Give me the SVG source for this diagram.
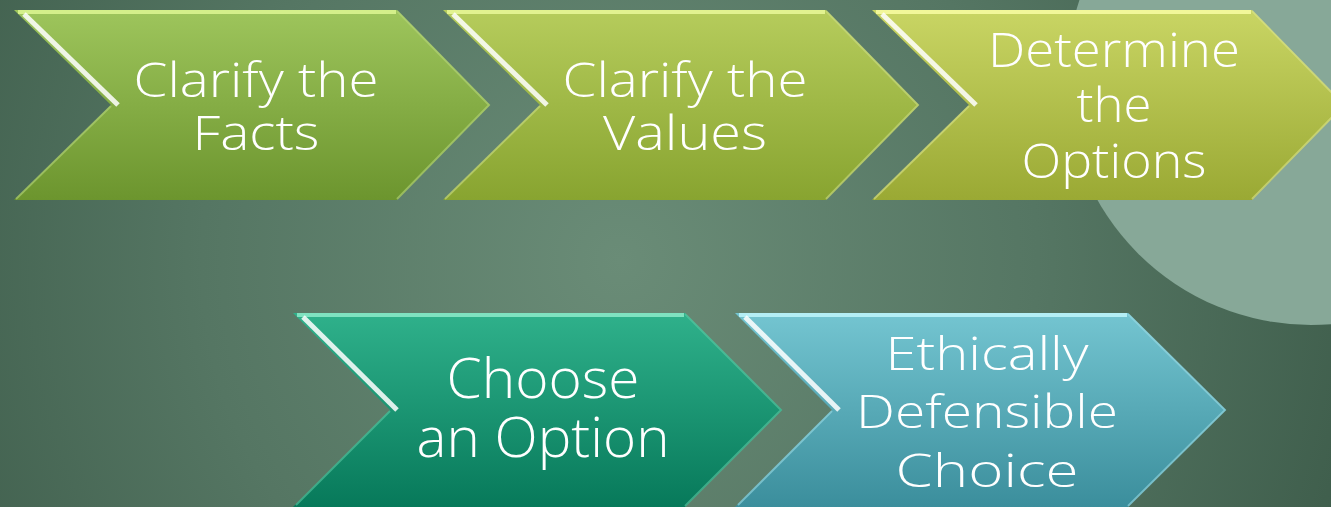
<svg xmlns="http://www.w3.org/2000/svg" width="1331" height="507" viewBox="0 0 1331 507">
<style>
.lbl{font-family:"Open Sans","Liberation Sans",sans-serif;font-weight:300;fill:#ffffff;text-anchor:middle}
.top{fill:none;stroke-width:4;stroke-linecap:butt}
.hl{fill:none;stroke:#ffffff;stroke-width:5;stroke-opacity:0.85}
.lo{fill:none;stroke-width:2;stroke-opacity:0.6}
</style>
<defs>
<radialGradient id="bg" cx="620" cy="260" r="760" gradientUnits="userSpaceOnUse">
<stop offset="0" stop-color="#6a8c77"/>
<stop offset="0.55" stop-color="#557663"/>
<stop offset="1" stop-color="#3f5e4c"/>
</radialGradient>
<linearGradient id="g1" x1="0" y1="0" x2="0" y2="1"><stop offset="0" stop-color="#9ec55c"/><stop offset="1" stop-color="#6c952e"/></linearGradient>
<linearGradient id="g2" x1="0" y1="0" x2="0" y2="1"><stop offset="0" stop-color="#b6cc5c"/><stop offset="1" stop-color="#88a430"/></linearGradient>
<linearGradient id="g3" x1="0" y1="0" x2="0" y2="1"><stop offset="0" stop-color="#c9d564"/><stop offset="1" stop-color="#9aa934"/></linearGradient>
<linearGradient id="g4" x1="0" y1="0" x2="0" y2="1"><stop offset="0" stop-color="#2fb18b"/><stop offset="1" stop-color="#07795a"/></linearGradient>
<linearGradient id="g5" x1="0" y1="0" x2="0" y2="1"><stop offset="0" stop-color="#74c5d1"/><stop offset="1" stop-color="#3b8e9c"/></linearGradient>
</defs>
<rect x="0" y="0" width="1331" height="507" fill="url(#bg)"/>
<circle cx="1311" cy="80" r="245" fill="#87a898"/>

<g id="n1">
<polygon points="14,10 397,10 490,105 397,200 14,200 111,105" fill="url(#g1)"/>
<polyline class="top" points="18,12 396,12" stroke="#d4ef8a"/>
<polyline class="hl" points="24,14 118,105"/>
<polyline class="lo" points="111,106 16,199" stroke="#b5d57a"/>
<polyline class="lo" points="397,11 489,105 397,199" stroke="#b5d57a"/>
<text class="lbl" x="256" y="97" font-size="48" textLength="245" lengthAdjust="spacingAndGlyphs">Clarify the</text>
<text class="lbl" x="256" y="150" font-size="48" textLength="127" lengthAdjust="spacingAndGlyphs">Facts</text>
</g>

<g id="n2">
<polygon points="443,10 826,10 919,105 826,200 443,200 540,105" fill="url(#g2)"/>
<polyline class="top" points="447,12 825,12" stroke="#e2f290"/>
<polyline class="hl" points="453,14 547,105"/>
<polyline class="lo" points="540,106 445,199" stroke="#cbdc84"/>
<polyline class="lo" points="826,11 918,105 826,199" stroke="#cbdc84"/>
<text class="lbl" x="685" y="97" font-size="48" textLength="245" lengthAdjust="spacingAndGlyphs">Clarify the</text>
<text class="lbl" x="685" y="150" font-size="48" textLength="164" lengthAdjust="spacingAndGlyphs">Values</text>
</g>

<g id="n3">
<polygon points="872,10 1252,10 1345,105 1252,200 872,200 969,105" fill="url(#g3)"/>
<polyline class="top" points="876,12 1251,12" stroke="#f2f79a"/>
<polyline class="hl" points="882,14 976,105"/>
<polyline class="lo" points="969,106 874,199" stroke="#dbe38a"/>
<polyline class="lo" points="1252,11 1344,105 1252,199" stroke="#dbe38a"/>
<text class="lbl" x="1114" y="67" font-size="47" textLength="252" lengthAdjust="spacingAndGlyphs">Determine</text>
<text class="lbl" x="1114" y="122" font-size="47" textLength="75" lengthAdjust="spacingAndGlyphs">the</text>
<text class="lbl" x="1114" y="178" font-size="47" textLength="185" lengthAdjust="spacingAndGlyphs">Options</text>
</g>

<g id="n4">
<polygon points="293,313 685,313 782,410 685,507 293,507 390,410" fill="url(#g4)"/>
<polyline class="top" points="297,315 684,315" stroke="#7fe2c0"/>
<polyline class="hl" points="303,317 397,410"/>
<polyline class="lo" points="390,411 296,505" stroke="#5cc8a4"/>
<polyline class="lo" points="685,314 781,410 685,506" stroke="#5cc8a4"/>
<text class="lbl" x="543" y="398" font-size="56" textLength="193" lengthAdjust="spacingAndGlyphs">Choose</text>
<text class="lbl" x="543" y="457" font-size="56" textLength="253" lengthAdjust="spacingAndGlyphs">an Option</text>
</g>

<g id="n5">
<polygon points="735,313 1128,313 1226,410 1128,507 735,507 832,410" fill="url(#g5)"/>
<polyline class="top" points="739,315 1127,315" stroke="#b4eef5"/>
<polyline class="hl" points="745,317 839,410"/>
<polyline class="lo" points="832,411 738,505" stroke="#9adbe4"/>
<polyline class="lo" points="1128,314 1225,410 1128,506" stroke="#9adbe4"/>
<text class="lbl" x="987" y="370" font-size="46" textLength="203" lengthAdjust="spacingAndGlyphs">Ethically</text>
<text class="lbl" x="987" y="428" font-size="46" textLength="262" lengthAdjust="spacingAndGlyphs">Defensible</text>
<text class="lbl" x="987" y="487" font-size="46" textLength="183" lengthAdjust="spacingAndGlyphs">Choice</text>
</g>

<g id="connectors"></g>
</svg>
